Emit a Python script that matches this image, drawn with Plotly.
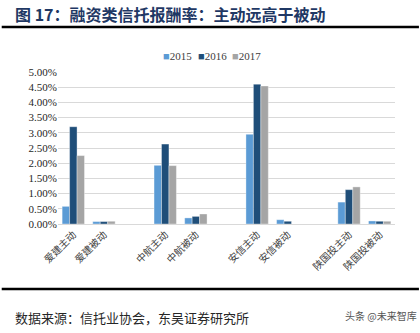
import plotly.graph_objects as go

categories = ["爱建主动", "爱建被动", " ", "中航主动", "中航被动", "  ",
              "安信主动", "安信被动", "   ", "陕国投主动", "陕国投被动"]
years = ["2015", "2016", "2017"]
v2015 = [0.0058, 0.0008, None, 0.0193, 0.0020, None, 0.0295, 0.0014, None, 0.0072, 0.0010]
v2016 = [0.0320, 0.0008, None, 0.0263, 0.0025, None, 0.0460, 0.0009, None, 0.0113, 0.0009]
v2017 = [0.0225, 0.0009, None, 0.0192, 0.0033, None, 0.0454, None, None, 0.0122, 0.0009]
colors = ["#5B9BD5", "#1F4E79", "#A5A5A5"]
yticks = [i * 0.005 for i in range(11)]

fig = go.Figure()
for name, vals, c in zip(years, [v2015, v2016, v2017], colors):
    fig.add_bar(x=categories, y=vals, name=name, marker_color=c,
                marker_line_color="rgba(255,255,255,0.6)", marker_line_width=0.6)

H = 333 - 72 - 109
W = 420 - 58 - 25

fig.update_layout(
    width=420, height=333,
    margin=dict(l=58, r=25, t=72, b=109),
    paper_bgcolor="white", plot_bgcolor="white",
    barmode="group", bargap=0.27, bargroupgap=0.0,
    showlegend=False,
    font=dict(family="Liberation Serif", color="#262626"),
)
fig.update_xaxes(type="category", categoryorder="array", categoryarray=categories,
                 tickangle=-45, tickfont=dict(family="Noto Sans CJK SC", size=10, color="#404040"),
                 showline=True, linecolor="#D9D9D9", linewidth=1, ticks="", showgrid=False)
fig.update_yaxes(range=[0, 0.05], tickvals=yticks, tickformat=".2%",
                 tickfont=dict(family="Liberation Serif", size=11, color="#262626"),
                 showgrid=True, gridcolor="#D9D9D9", gridwidth=1, zeroline=False,
                 showline=False, ticks="")

# Manual compact legend
legend_x = [161, 196, 230]
for name, c, lx in zip(years, colors, legend_x):
    fig.add_annotation(text=f"<span style='color:{c}'>■</span>{name}",
                       xref="paper", yref="paper",
                       x=(lx - 58) / W, y=1 + (72 - 56) / H, xanchor="left", yanchor="middle",
                       showarrow=False, font=dict(family="Liberation Serif", size=11, color="#404040"))

# Title and decorations
fig.add_annotation(text="<b>图 17：融资类信托报酬率：主动远高于被动</b>", xref="paper", yref="paper",
                   x=-0.135, y=1.0, xanchor="left", yanchor="bottom", yshift=44,
                   showarrow=False, font=dict(family="Noto Sans CJK SC", size=16, color="#1F3864"))
fig.add_shape(type="line", xref="paper", yref="paper", x0=-0.167, x1=1.071,
              y0=1 + (72 - 27) / H, y1=1 + (72 - 27) / H,
              line=dict(color="black", width=2.5))
fig.add_shape(type="line", xref="paper", yref="paper", x0=-0.167, x1=1.071,
              y0=-(289 - 224) / H, y1=-(289 - 224) / H, line=dict(color="black", width=2.5))
fig.add_annotation(text="数据来源：信托业协会，东吴证券研究所", xref="paper", yref="paper",
                   x=-0.135, y=0, xanchor="left", yanchor="middle", yshift=-93,
                   showarrow=False, font=dict(family="Noto Sans CJK SC", size=13, color="#262626"))
fig.add_annotation(text="头条 @未来智库", xref="paper", yref="paper",
                   x=1.071, y=0, xanchor="right", yanchor="middle", yshift=-91,
                   showarrow=False, font=dict(family="Noto Sans CJK SC", size=10, color="#555555"))

fig.write_html("out.html")
